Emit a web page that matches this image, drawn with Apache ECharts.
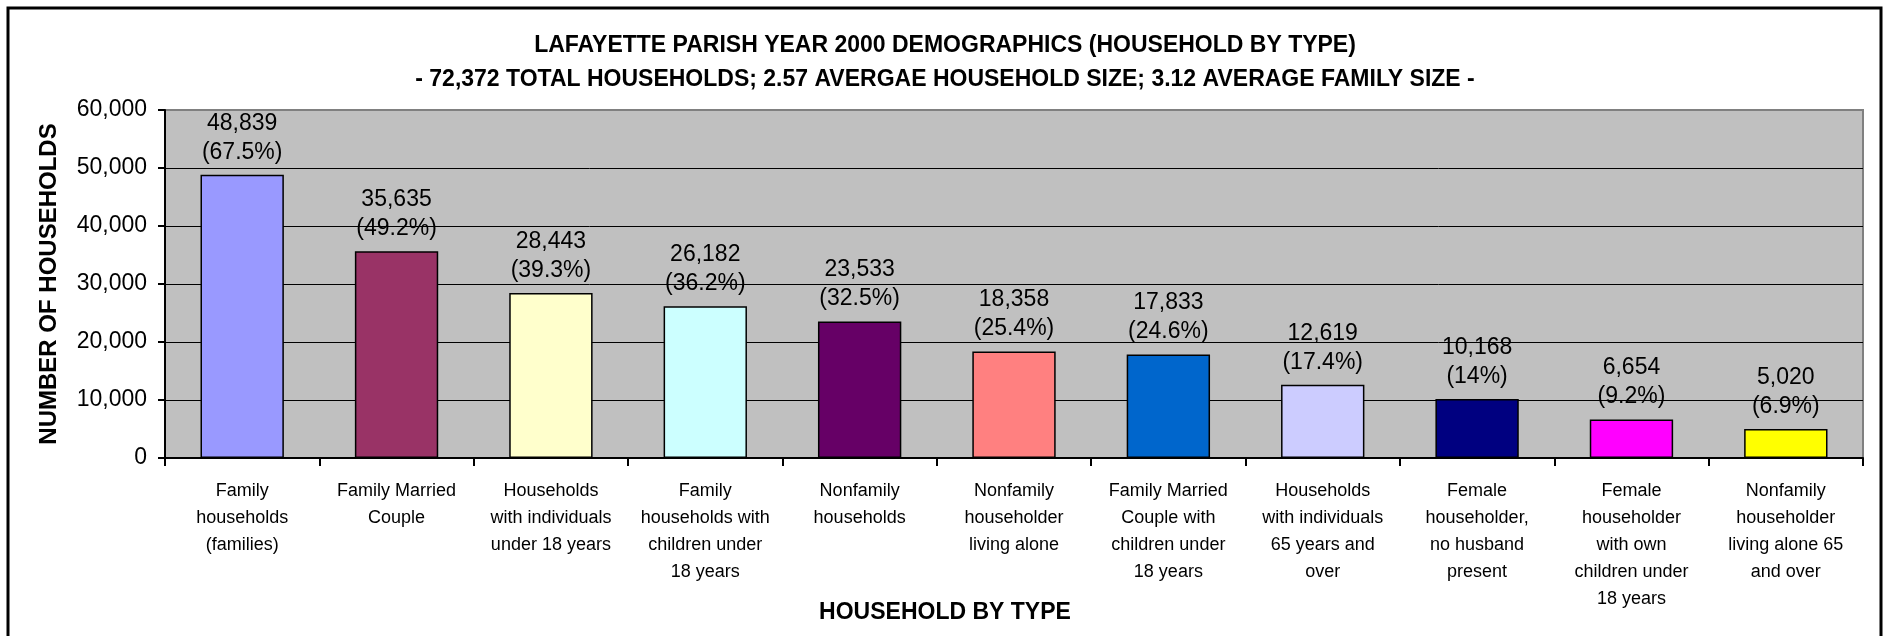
<!DOCTYPE html>
<html>
<head>
<meta charset="utf-8">
<script src="https://cdn.jsdelivr.net/npm/echarts@6/dist/echarts.min.js"></script>
<style>html,body{margin:0;padding:0;background:#fff}#c{width:1890px;height:636px}</style>
</head>
<body>
<div id="c"></div>
<script>
const categories = [
  "Family\nhouseholds\n(families)",
  "Family Married\nCouple",
  "Households\nwith individuals\nunder 18 years",
  "Family\nhouseholds with\nchildren under\n18 years",
  "Nonfamily\nhouseholds",
  "Nonfamily\nhouseholder\nliving alone",
  "Family Married\nCouple with\nchildren under\n18 years",
  "Households\nwith individuals\n65 years and\nover",
  "Female\nhouseholder,\nno husband\npresent",
  "Female\nhouseholder\nwith own\nchildren under\n18 years",
  "Nonfamily\nhouseholder\nliving alone 65\nand over"
];
const households = [48839, 35635, 28443, 26182, 23533, 18358, 17833, 12619, 10168, 6654, 5020];
const percents = ["67.5%", "49.2%", "39.3%", "36.2%", "32.5%", "25.4%", "24.6%", "17.4%", "14%", "9.2%", "6.9%"];
const barColors = ["#9999FF", "#993366", "#FFFFCC", "#CCFFFF", "#660066", "#FF8080", "#0066CC", "#CCCCFF", "#000080", "#FF00FF", "#FFFF00"];
const yTicks = [0, 10000, 20000, 30000, 40000, 50000, 60000];

const FONT = "'Liberation Sans', Arial, sans-serif";

const chart = echarts.init(document.getElementById('c'), null, {renderer: 'canvas'});
chart.setOption({
  animation: false,
  backgroundColor: '#ffffff',
  title: [
    {
      text: "LAFAYETTE PARISH YEAR 2000 DEMOGRAPHICS (HOUSEHOLD BY TYPE)\n- 72,372 TOTAL HOUSEHOLDS; 2.57 AVERGAE HOUSEHOLD SIZE; 3.12 AVERAGE FAMILY SIZE -",
      left: 'center', top: 29, padding: 0,
      textStyle: {fontFamily: FONT, fontWeight: 'bold', fontSize: 23, lineHeight: 34, color: '#000', align: 'center'}
    },
    {
      text: "HOUSEHOLD BY TYPE",
      left: 'center', top: 600, padding: 0,
      textStyle: {fontFamily: FONT, fontWeight: 'bold', fontSize: 23, lineHeight: 26, color: '#000'}
    }
  ],
  graphic: [{
    type: 'rect', silent: true, z: 100,
    shape: {x: 8, y: 8, width: 1873, height: 700},
    style: {fill: 'none', stroke: '#000', lineWidth: 3}
  }],
  grid: {
    left: 165, right: 27, top: 110, bottom: 178,
    show: true, backgroundColor: '#C0C0C0', borderColor: '#808080', borderWidth: 2
  },
  xAxis: {
    type: 'category',
    data: categories,
    axisLine: {show: true, lineStyle: {color: '#000', width: 2}},
    axisTick: {show: true, length: 8, lineStyle: {color: '#000', width: 2}},
    axisLabel: {
      interval: 0, margin: 20, color: '#000',
      fontFamily: FONT, fontSize: 18, lineHeight: 27, align: 'center'
    }
  },
  yAxis: {
    type: 'value', min: yTicks[0], max: yTicks[yTicks.length - 1], interval: 10000,
    name: 'NUMBER OF HOUSEHOLDS', nameLocation: 'middle', nameGap: 104, nameRotate: 90,
    nameTextStyle: {fontFamily: FONT, fontWeight: 'bold', fontSize: 24, color: '#000'},
    axisLine: {show: true, lineStyle: {color: '#000', width: 2}},
    axisTick: {show: true, length: 7, lineStyle: {color: '#000', width: 2}},
    axisLabel: {
      margin: 18, color: '#000', fontFamily: FONT, fontSize: 23,
      formatter: v => v.toLocaleString('en-US')
    },
    splitLine: {show: true, lineStyle: {color: ['#000', '#000', '#000', '#000', '#000', '#000', '#808080'], width: 1}}
  },
  series: [{
    type: 'bar',
    barWidth: '54%',
    data: households.map((v, i) => ({value: v, itemStyle: {color: barColors[i]}})),
    itemStyle: {borderColor: '#000', borderWidth: 1.5},
    label: {
      show: true, position: 'top', distance: 8, color: '#000',
      fontFamily: FONT, fontSize: 23, lineHeight: 29, align: 'center',
      formatter: p => p.value.toLocaleString('en-US') + '\n(' + percents[p.dataIndex] + ')'
    }
  }]
});
</script>
</body>
</html>
